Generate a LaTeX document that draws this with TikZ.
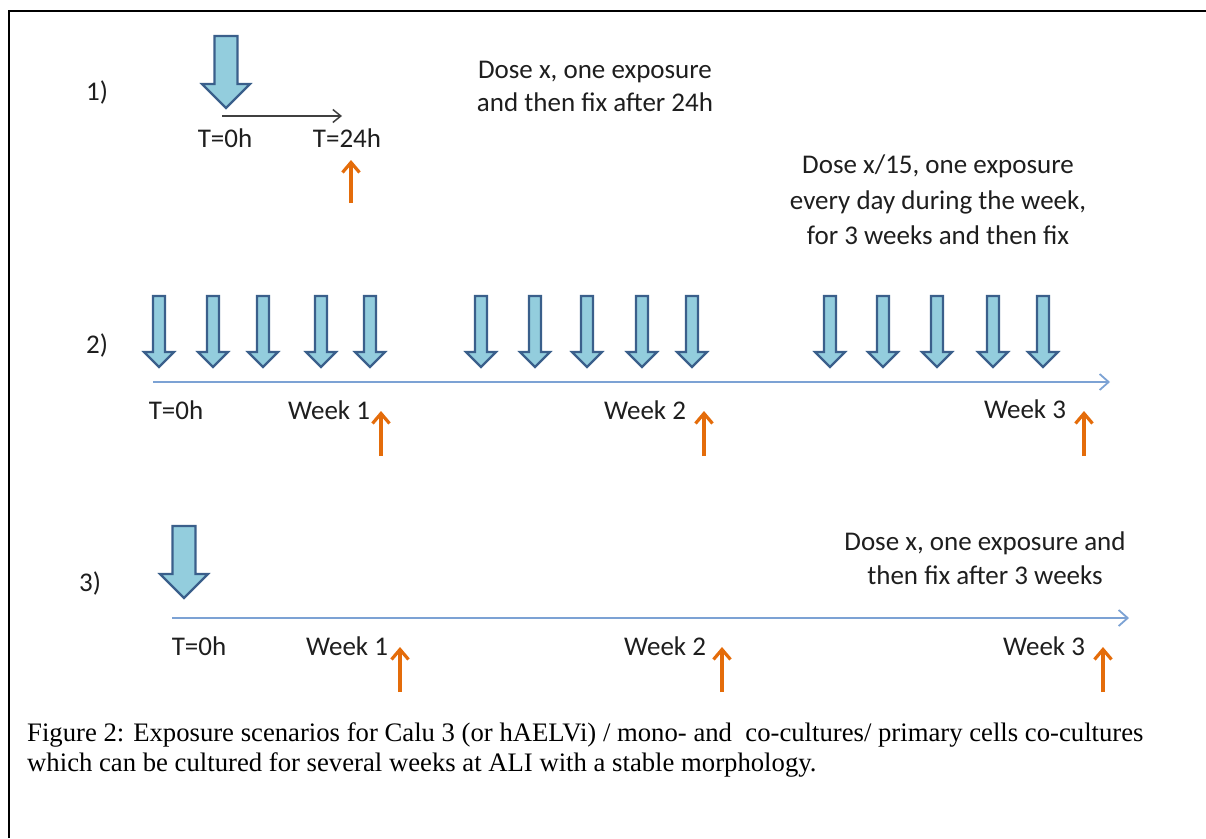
\documentclass[tikz,border=0pt]{standalone}
\usepackage{fontspec}
\setmainfont{Liberation Serif}
\newfontfamily\calib{Carlito}
\usetikzlibrary{arrows.meta}
\definecolor{doseFill}{HTML}{93CDDD}
\definecolor{doseEdge}{HTML}{3A5F8B}
\definecolor{fixOrange}{HTML}{E46C0A}
\definecolor{axisBlue}{HTML}{7CA2D4}
\definecolor{txtGray}{HTML}{1E1E1E}
\tikzset{
  lbl/.style={font=\calib\fontsize{27}{33}\selectfont, text=txtGray, inner sep=0pt, align=center},
  fixarrow/.style={draw=fixOrange, line width=3.2pt, -{Straight Barb[length=10pt,width=17pt]}},
  axisline/.style={draw=axisBlue, line width=1.8pt, -{Straight Barb[length=9pt,width=16pt]}},
  darkline/.style={draw=black!75, line width=1.5pt, -{Straight Barb[length=8pt,width=13pt]}},
  dosestyle/.style={fill=doseFill, draw=doseEdge, line width=2.2pt, line join=miter},
  smalldose/.pic={\path[dosestyle] (0,0) -- (-15,-15) -- (-6,-15) -- (-6,-71) -- (6,-71) -- (6,-15) -- (15,-15) -- cycle;},
  bigdose/.pic={\path[dosestyle] (0,0) -- (-24,-24) -- (-11.5,-24) -- (-11.5,-72) -- (11.5,-72) -- (11.5,-24) -- (24,-24) -- cycle;}
}
\begin{document}
\begin{tikzpicture}[x=1pt,y=-1pt]
\useasboundingbox (0,0) rectangle (1206,838);
% frame
\draw[line width=2.2pt, line cap=butt] (9,838) -- (9,11) -- (1206,11);

% ---------- scenario 1
\node[lbl] (n1) at (97,92) {1)};
\pic at (226,108) {bigdose};
\coordinate (a1s) at (222,116);
\coordinate (a1e) at (342,116);
\draw[darkline] (a1s) -- (a1e);
\node[lbl] (t0a) at (225,138) {T=0h};
\node[lbl] (t24) at (347,138) {T=24h};
\coordinate (o1b) at (351,203);
\coordinate (o1t) at (351,160);
\draw[fixarrow] (o1b) -- (o1t);
\node[lbl] (d1) at (595,86) {Dose x, one exposure\\and then fix after 24h};

% ---------- scenario 2
\node[lbl, font=\calib\fontsize{27}{35.5}\selectfont] (d2) at (938,200) {Dose x/15, one exposure\\every day during the week,\\for 3 weeks and then fix};
\node[lbl] (n2) at (97,345) {2)};
\foreach \xx in {159,213,263,321,370,481,535,587,642,692,830,883,937,993,1043}
  \pic at (\xx,367) {smalldose};
\coordinate (ax2s) at (153,382);
\coordinate (ax2e) at (1110,382);
\draw[axisline] (ax2s) -- (ax2e);
\node[lbl] (t0b) at (176,410) {T=0h};
\node[lbl] (w1b) at (329,410) {Week 1};
\node[lbl] (w2b) at (645,410) {Week 2};
\node[lbl] (w3b) at (1025,409) {Week 3};
\foreach \xx/\nm in {381/o2a,704/o2b,1084/o2c}{
  \coordinate (\nm b) at (\xx,456);
  \coordinate (\nm t) at (\xx,411);
  \draw[fixarrow] (\nm b) -- (\nm t);
}

% ---------- scenario 3
\node[lbl] (n3) at (90,583) {3)};
\pic at (184,598) {bigdose};
\node[lbl, font=\calib\fontsize{27}{34}\selectfont] (d3) at (985,558) {Dose x, one exposure and\\then fix after 3 weeks};
\coordinate (ax3s) at (172,618);
\coordinate (ax3e) at (1129,618);
\draw[axisline] (ax3s) -- (ax3e);
\node[lbl] (t0c) at (199,646) {T=0h};
\node[lbl] (w1c) at (347,646) {Week 1};
\node[lbl] (w2c) at (665,646) {Week 2};
\node[lbl] (w3c) at (1044,646) {Week 3};
\foreach \xx/\nm in {400/o3a,722/o3b,1103/o3c}{
  \coordinate (\nm b) at (\xx,692);
  \coordinate (\nm t) at (\xx,647);
  \draw[fixarrow] (\nm b) -- (\nm t);
}

% ---------- caption
\node[anchor=base west, inner sep=0pt, align=left, font=\fontsize{26.7}{30}\selectfont] (cap) at (27,771)
  {Figure 2: Exposure scenarios for Calu 3 (or hAELVi) / mono- and~ co-cultures/ primary cells co-cultures\\
   which can be cultured for several weeks at ALI with a stable morphology.};
\end{tikzpicture}
\end{document}
